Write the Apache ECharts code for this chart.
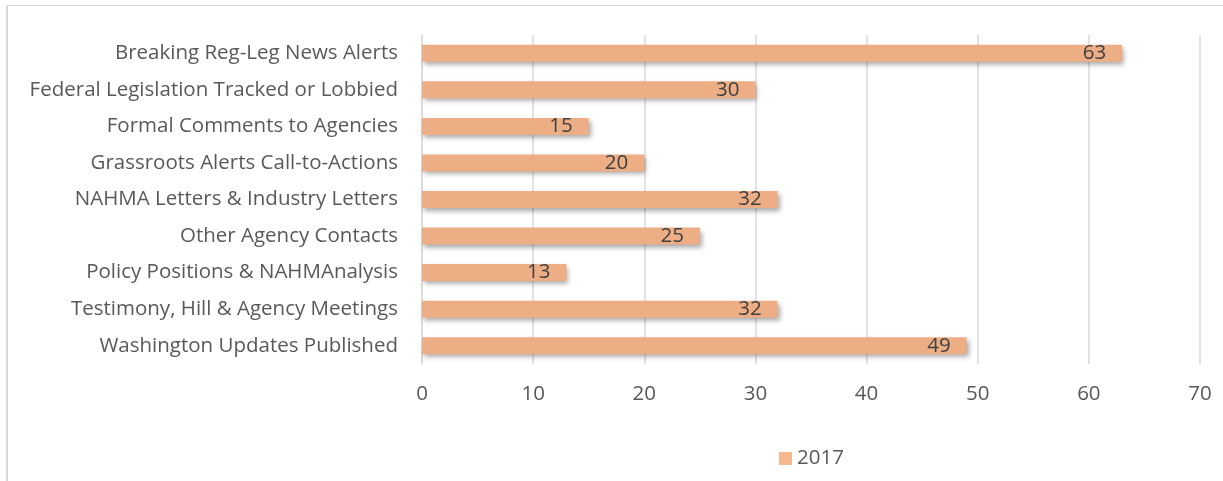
<!DOCTYPE html>
<html>
<head>
<meta charset="utf-8">
<script src="https://cdn.jsdelivr.net/npm/echarts@6/dist/echarts.min.js"></script>
<style>
html,body{margin:0;padding:0;background:#fff;overflow:hidden;}
#chart{position:absolute;left:0;top:0;width:1223px;height:481px;}
#frame{position:absolute;left:6px;top:5px;width:1400px;height:700px;border-top:1px solid #d9d9d9;border-left:2px solid #d9d9d9;pointer-events:none;}
</style>
</head>
<body>
<div id="chart"></div>
<div id="frame"></div>
<script>
const categories = [
  "Breaking Reg-Leg News Alerts",
  "Federal Legislation Tracked or Lobbied",
  "Formal Comments to Agencies",
  "Grassroots Alerts Call-to-Actions",
  "NAHMA Letters & Industry Letters",
  "Other Agency Contacts",
  "Policy Positions & NAHMAnalysis",
  "Testimony, Hill & Agency Meetings",
  "Washington Updates Published"
];
const values2017 = [63, 30, 15, 20, 32, 25, 13, 32, 49];
const seriesName = "2017";

const FONT = "'Open Sans', 'Noto Sans', sans-serif";
const FS = 20.5;
const chart = echarts.init(document.getElementById('chart'), null, {renderer: 'canvas'});
chart.setOption({
  animation: false,
  textStyle: {fontFamily: FONT},
  grid: {left: 422, right: 23, top: 35, bottom: 117, containLabel: false},
  xAxis: {
    type: 'value', min: 0, max: 70, interval: 10,
    axisLine: {show: false}, axisTick: {show: false},
    splitLine: {show: true, lineStyle: {color: '#d9d9d9', width: 1.5}},
    axisLabel: {color: '#595959', fontSize: FS, fontFamily: FONT, margin: 20}
  },
  yAxis: {
    type: 'category', data: categories, inverse: true,
    axisLine: {show: true, lineStyle: {color: '#d9d9d9', width: 1.5}},
    axisTick: {show: false},
    axisLabel: {color: '#595959', fontSize: FS, fontFamily: FONT, margin: 24}
  },
  legend: {
    bottom: 7, left: 774, itemWidth: 13, itemHeight: 13, itemGap: 8,
    icon: 'rect',
    textStyle: {color: '#595959', fontSize: FS, fontFamily: FONT},
    data: [{name: seriesName, itemStyle: {color: '#F4B88C'}}]
  },
  series: [{
    name: seriesName, type: 'bar', data: values2017,
    barWidth: 17,
    itemStyle: {
      color: '#EEAE85',
      shadowColor: 'rgba(0,0,0,0.35)', shadowBlur: 5, shadowOffsetX: 2, shadowOffsetY: 3
    },
    label: {
      show: true, position: 'insideRight', distance: 16,
      color: '#404040', fontSize: FS, fontFamily: FONT
    }
  }]
});
</script>
</body>
</html>
